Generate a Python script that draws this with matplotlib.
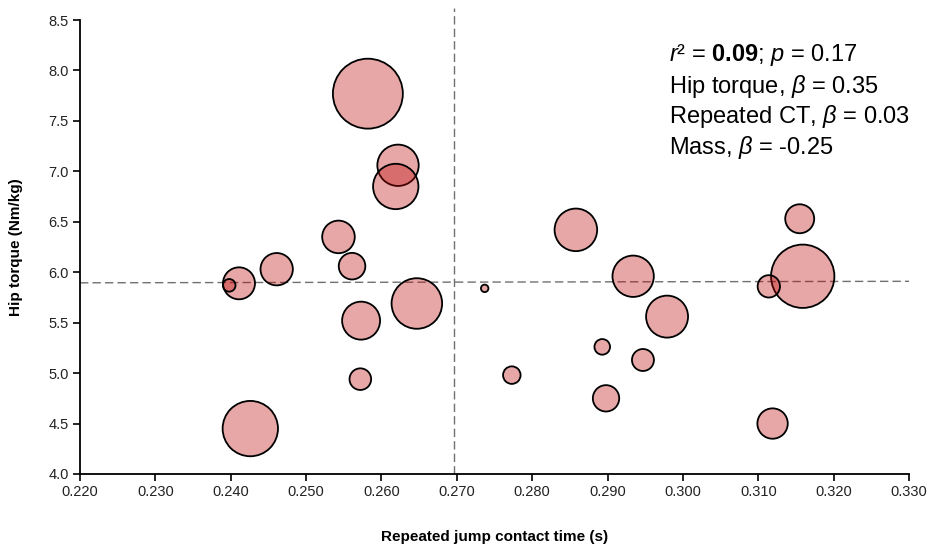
import matplotlib
matplotlib.use("Agg")
import matplotlib.pyplot as plt
import numpy as np

plt.rcParams['font.family'] = ['Liberation Sans', 'DejaVu Sans']
plt.rcParams['mathtext.fontset'] = 'custom'
plt.rcParams['mathtext.rm'] = 'Liberation Sans'
plt.rcParams['mathtext.it'] = 'Liberation Sans:italic'
plt.rcParams['mathtext.bf'] = 'Liberation Sans:bold'

# data
contact_time = [0.2582, 0.2622, 0.2619, 0.2543, 0.2561, 0.2461, 0.2411, 0.2398,
                0.2647, 0.2573, 0.2572, 0.2426, 0.2858, 0.2934, 0.2979, 0.2737,
                0.2893, 0.2947, 0.2773, 0.2898, 0.3155, 0.3159, 0.3114, 0.3119]
hip_torque = [7.77, 7.06, 6.85, 6.35, 6.06, 6.03, 5.89, 5.87,
              5.69, 5.52, 4.94, 4.45, 6.42, 5.96, 5.56, 5.84,
              5.26, 5.13, 4.98, 4.75, 6.53, 5.96, 5.86, 4.50]
bubble = [122.5, 42.8, 51.5, 26.6, 17.7, 26.2, 25.6, 4.0,
          64.0, 36.1, 11.7, 76.7, 45.4, 42.8, 44.1, 1.4,
          6.1, 12.1, 7.7, 17.4, 21.0, 100.5, 12.5, 23.1]

mean_x = 0.2696
ref_y = [5.895, 5.910]
x_range = [0.220, 0.330]

fig = plt.figure(figsize=(9.3, 5.44), dpi=100)
ax = fig.add_axes([0.086, 0.1287, 0.8914, 0.8345])

ax.scatter(contact_time, hip_torque, s=np.array(bubble) * 20.7,
           facecolor=(0.74, 0.01, 0.01, 0.35), edgecolor='black',
           linewidth=1.3, zorder=3)

ax.plot(x_range, ref_y, color='#707070', linestyle=(0, (6, 3)),
        linewidth=1.0, zorder=2)
ax.plot([mean_x, mean_x], [4.0, 8.62], color='#707070',
        linestyle=(0, (6, 3)), linewidth=1.0, zorder=2, clip_on=False)

ax.set_xlim(0.220, 0.330)
ax.set_ylim(4.0, 8.5)
ax.set_xticks(np.arange(0.220, 0.3301, 0.010))
ax.set_xticklabels([f"{v:.3f}" for v in np.arange(0.220, 0.3301, 0.010)])
ax.set_yticks(np.arange(4.0, 8.51, 0.5))
ax.set_yticklabels([f"{v:.1f}" for v in np.arange(4.0, 8.51, 0.5)])

for side in ['top', 'right']:
    ax.spines[side].set_visible(False)
for side in ['left', 'bottom']:
    ax.spines[side].set_linewidth(1.3)
ax.tick_params(direction='out', length=5, width=1.2, labelsize=10.5,
               labelcolor='#222222', pad=3)

ax.set_xlabel("Repeated jump contact time (s)", fontsize=11, fontweight='bold',
              labelpad=22)
ax.set_ylabel("Hip torque (Nm/kg)", fontsize=11, fontweight='bold', labelpad=18)

lines = [r"$\mathit{r}$² = $\mathbf{0.09}$; $\mathit{p}$ = 0.17",
         r"Hip torque, $\beta$ = 0.35",
         r"Repeated CT, $\beta$ = 0.03",
         r"Mass, $\beta$ = -0.25"]
for i, line in enumerate(lines):
    fig.text(669 / 930, 1 - (55 + i * 31) / 544, line, fontsize=17,
             va='center', ha='left')

fig.savefig("out.png", dpi=100)
